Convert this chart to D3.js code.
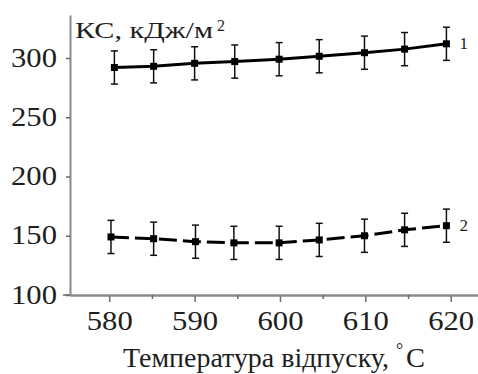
<!DOCTYPE html>
<html>
<head>
<meta charset="utf-8">
<script src="https://cdn.jsdelivr.net/npm/d3@7"></script>
<style>
  body { margin: 0; background: #fff; }
  svg text { font-family: "Liberation Serif", "Times New Roman", serif; fill: #1e1e1e; }
</style>
</head>
<body>
<div class="box"></div>
<script>
// temperature (x) and impact strength (y) for the two curves
const temp1 = [580.6, 585.2, 590, 594.7, 599.9, 604.6, 609.9, 614.6, 619.5];
const ks1 = [292, 293, 295.5, 297, 299, 301.5, 304.5, 307.5, 312];
const temp2 = [580.2, 585.2, 590.1, 594.6, 599.9, 604.6, 609.9, 614.6, 619.5];
const ks2 = [149, 147.5, 145, 144, 144, 146.5, 150, 155, 158.5];
const err = 14;
const xTicks = [580, 590, 600, 610, 620];
const xMinorTicks = [585, 595, 605, 615];
const yTicks = [100, 150, 200, 250, 300];
const yTitle = "КС, кДж/м";
const xTitle = "Температура відпуску,";

const width = 478, height = 374;
const svg = d3.select(".box").append("svg")
  .attr("width", width).attr("height", height);

let x = d3.scaleLinear().domain([575.4, 623.2]).range([70, 478]);
let y = d3.scaleLinear().domain([100, 336.3]).range([295, 15]);

// x axis runs a little left of the y axis
svg.append("line")
  .attr("x1", 63).attr("x2", 70)
  .attr("y1", y(100)).attr("y2", y(100))
  .attr("stroke", "#8a8a8a").attr("stroke-width", 2);

let xAxis = svg.append("g")
  .attr("transform", `translate(0, ${y(100)})`)
  .call(d3.axisBottom(x).tickValues(xTicks).tickSize(7).tickPadding(9).tickSizeOuter(0));
svg.append("g")
  .attr("transform", `translate(0, ${y(100)})`)
  .call(d3.axisBottom(x).tickValues(xMinorTicks).tickSize(4).tickFormat("").tickSizeOuter(0));

let yAxis = svg.append("g")
  .attr("transform", `translate(${x(575.4)}, 0)`)
  .call(d3.axisLeft(y).tickValues(yTicks).tickSize(4).tickPadding(9).tickSizeOuter(0));

svg.selectAll(".domain").attr("stroke", "#8a8a8a").attr("stroke-width", 2);
svg.selectAll(".tick line").attr("stroke", "#6a6a6a").attr("stroke-width", 1.5);
svg.selectAll(".tick text")
  .attr("font-size", 27)
  .attr("textLength", 46)
  .attr("lengthAdjust", "spacingAndGlyphs");
yAxis.selectAll(".tick text").attr("dy", "0.3em");

// series
function drawSeries (xs, ys, dash, label) {
  let pts = xs.map((t, i) => ({ t: t, v: ys[i] }));
  let line = d3.line().x(d => x(d.t)).y(d => y(d.v));
  svg.append("path")
    .datum(pts)
    .attr("d", line)
    .attr("fill", "none")
    .attr("stroke", "#000")
    .attr("stroke-width", 3)
    .attr("stroke-dasharray", dash);
  let g = svg.append("g");
  pts.forEach(d => {
    let cx = x(d.t);
    g.append("line").attr("x1", cx).attr("x2", cx)
      .attr("y1", y(d.v + err)).attr("y2", y(d.v - err))
      .attr("stroke", "#111").attr("stroke-width", 1.5);
    [d.v + err, d.v - err].forEach(v => {
      g.append("line").attr("x1", cx - 3.5).attr("x2", cx + 3.5)
        .attr("y1", y(v)).attr("y2", y(v))
        .attr("stroke", "#111").attr("stroke-width", 1.5);
    });
    g.append("rect")
      .attr("x", cx - 3.5).attr("y", y(d.v) - 3.5)
      .attr("width", 7).attr("height", 7)
      .attr("fill", "#000");
  });
  let last = pts[pts.length - 1];
  svg.append("text")
    .attr("x", x(last.t) + 13).attr("y", y(last.v) + 5)
    .attr("font-size", 17)
    .text(label);
}
drawSeries(temp1, ks1, null, "1");
drawSeries(temp2, ks2, "18,6", "2");

// y title with superscript
svg.append("text").attr("x", 75).attr("y", 38).attr("font-size", 23)
  .attr("textLength", 138).attr("lengthAdjust", "spacingAndGlyphs")
  .text(yTitle);
svg.append("text").attr("x", 217).attr("y", 31).attr("font-size", 16).text("2");

// x title with degree sign
svg.append("text").attr("x", 123).attr("y", 367).attr("font-size", 27)
  .attr("textLength", 266).attr("lengthAdjust", "spacingAndGlyphs")
  .text(xTitle);
svg.append("text").attr("x", 396).attr("y", 356).attr("font-size", 18).text("°");
svg.append("text").attr("x", 406).attr("y", 367).attr("font-size", 27)
  .attr("textLength", 19).attr("lengthAdjust", "spacingAndGlyphs")
  .text("C");
</script>
</body>
</html>
